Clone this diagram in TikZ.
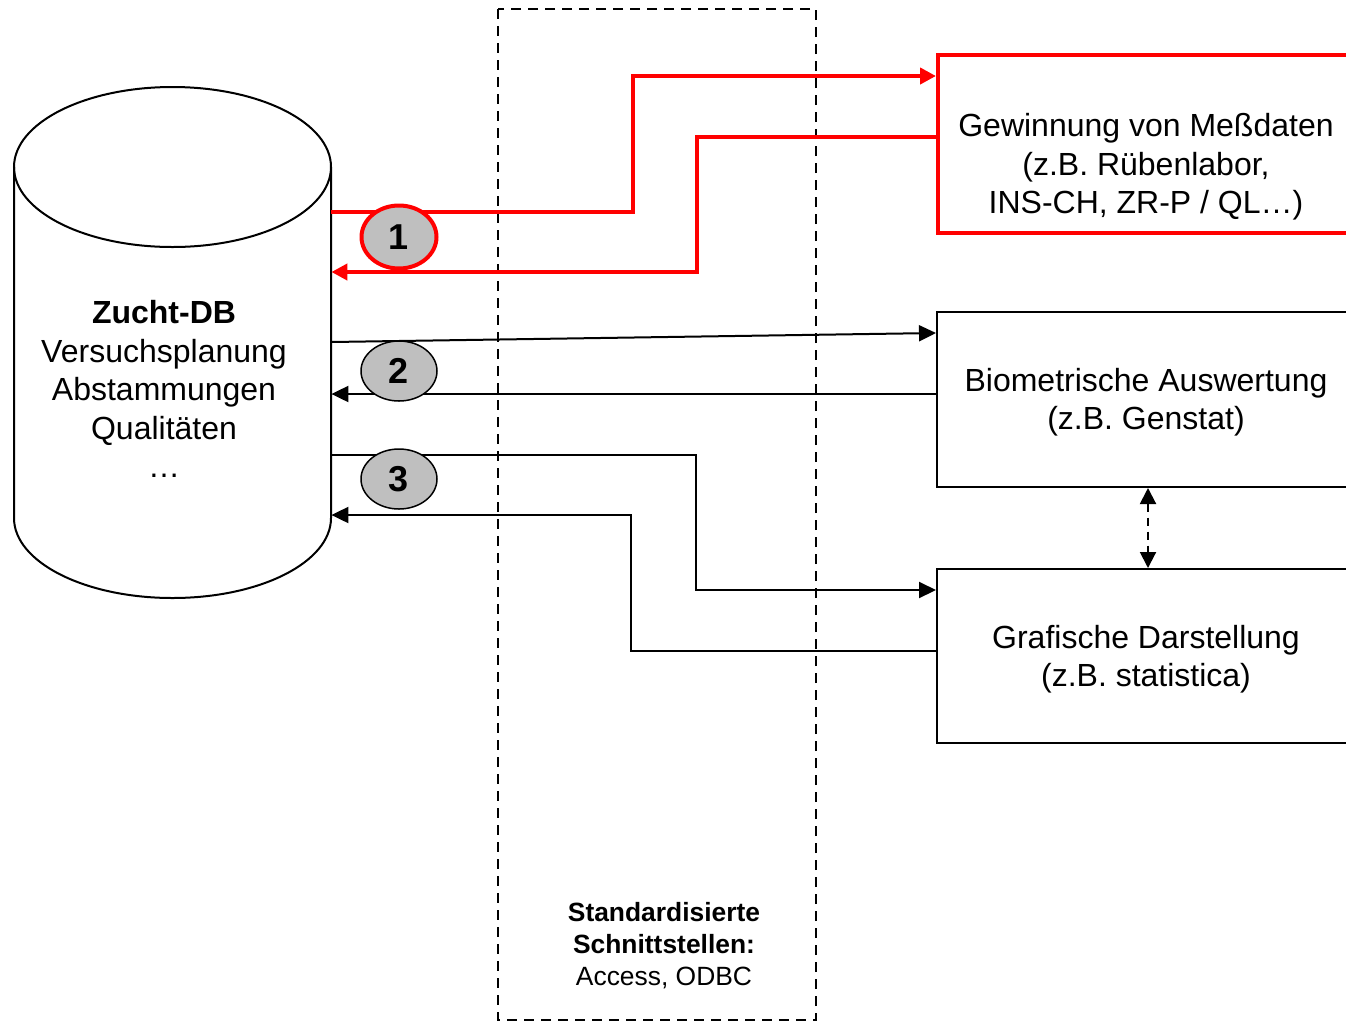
\documentclass[tikz,border=0pt]{standalone}
\usepackage{fontspec}
\setmainfont{Liberation Sans}
\usetikzlibrary{arrows.meta,calc,shapes.geometric}
\begin{document}
\begin{tikzpicture}[x=1pt,y=-1pt,
  txt/.style={font=\fontsize{32}{38.5}\selectfont, align=center, inner sep=0pt},
  sysbox/.style={draw, line width=2pt, minimum width=420pt, anchor=north west, inner sep=0pt},
  conn/.style={line width=2pt, -{Triangle[length=17pt,width=16pt]}},
  redconn/.style={draw=red, line width=4pt, -{Triangle[length=16pt,width=16pt]}},
  badge/.style={ellipse, draw, line width=1.5pt, fill=black!25, minimum width=76pt, minimum height=60pt,
    inner sep=0pt, font=\bfseries\fontsize{36}{40}\selectfont},
]
\useasboundingbox (0,0) rectangle (1346,1021);
\clip (0,0) rectangle (1346,1021);

% interface zone
\draw[line width=2pt, dash pattern=on 10pt off 7pt] (498,9) rectangle (816,1020);
\node[txt, font=\fontsize{26.4}{32}\selectfont] (iface) at (664,946)
  {\textbf{Standardisierte}\\\textbf{Schnittstellen:}\\Access, ODBC};

% database cylinder
\node[minimum width=317pt, minimum height=511pt, anchor=north west, inner sep=0pt] (db) at (14,87) {};
\draw[line width=2pt, fill=white] (14,167) -- (14,518)
  arc[start angle=180, end angle=0, x radius=158.5, y radius=80] -- (331,167);
\draw[line width=2pt] (172.5,167) ellipse[x radius=158.5, y radius=80];
\node[txt] (dbtxt) at (164,389)
  {\textbf{Zucht-DB}\\Versuchsplanung\\Abstammungen\\Qualitäten\\…};

% external systems
\node[sysbox, draw=red, line width=4pt, minimum height=178pt] (mess) at (936,53) {};
\node[txt] (messtxt) at (1146,167) {Gewinnung von Meßdaten\\(z.B. Rübenlabor,\\INS-CH, ZR-P / QL…)};
\node[sysbox, minimum height=175pt] (bio) at (936,311) {};
\node[txt] (biotxt) at (1146,402) {Biometrische Auswertung\\(z.B. Genstat)};
\node[sysbox, minimum height=174pt] (graf) at (936,568) {};
\node[txt] (graftxt) at (1146,659) {Grafische Darstellung\\(z.B. statistica)};

% link between the two analysis tools
\draw[line width=2pt, dash pattern=on 8pt off 6pt,
  {Triangle[length=16pt,width=16pt]}-{Triangle[length=16pt,width=16pt]}]
  ($(bio.south)+(1,0)$) -- ($(graf.north)+(1,0)$);

% 1: measurement data
\draw[redconn] ($(db.north east)+(0,125)$) -- (633,212) -- (633,76) -- ($(mess.north west)+(0,23)$);
\draw[redconn] ($(mess.north west)+(0,84)$) -- (697,137) -- (697,272) -- ($(db.north east)+(0,185)$);

% 2: biometrics
\draw[conn] ($(db.north east)+(0,255)$) -- ($(bio.north west)+(0,22)$);
\draw[conn] ($(bio.north west)+(0,83)$) -- ($(db.north east)+(0,307)$);

% 3: graphics
\draw[conn] ($(db.north east)+(0,368)$) -- (696,455) -- (696,590) -- ($(graf.north west)+(0,22)$);
\draw[conn] ($(graf.north west)+(0,83)$) -- (631,651) -- (631,515) -- ($(db.north east)+(0,428)$);

% numbered markers
\node[badge, draw=red, line width=4pt, minimum width=75pt, minimum height=63pt] (b1) at (399,237) {1};
\node[badge] (b2) at (399,371) {2};
\node[badge] (b3) at (399,479) {3};
\end{tikzpicture}
\end{document}
